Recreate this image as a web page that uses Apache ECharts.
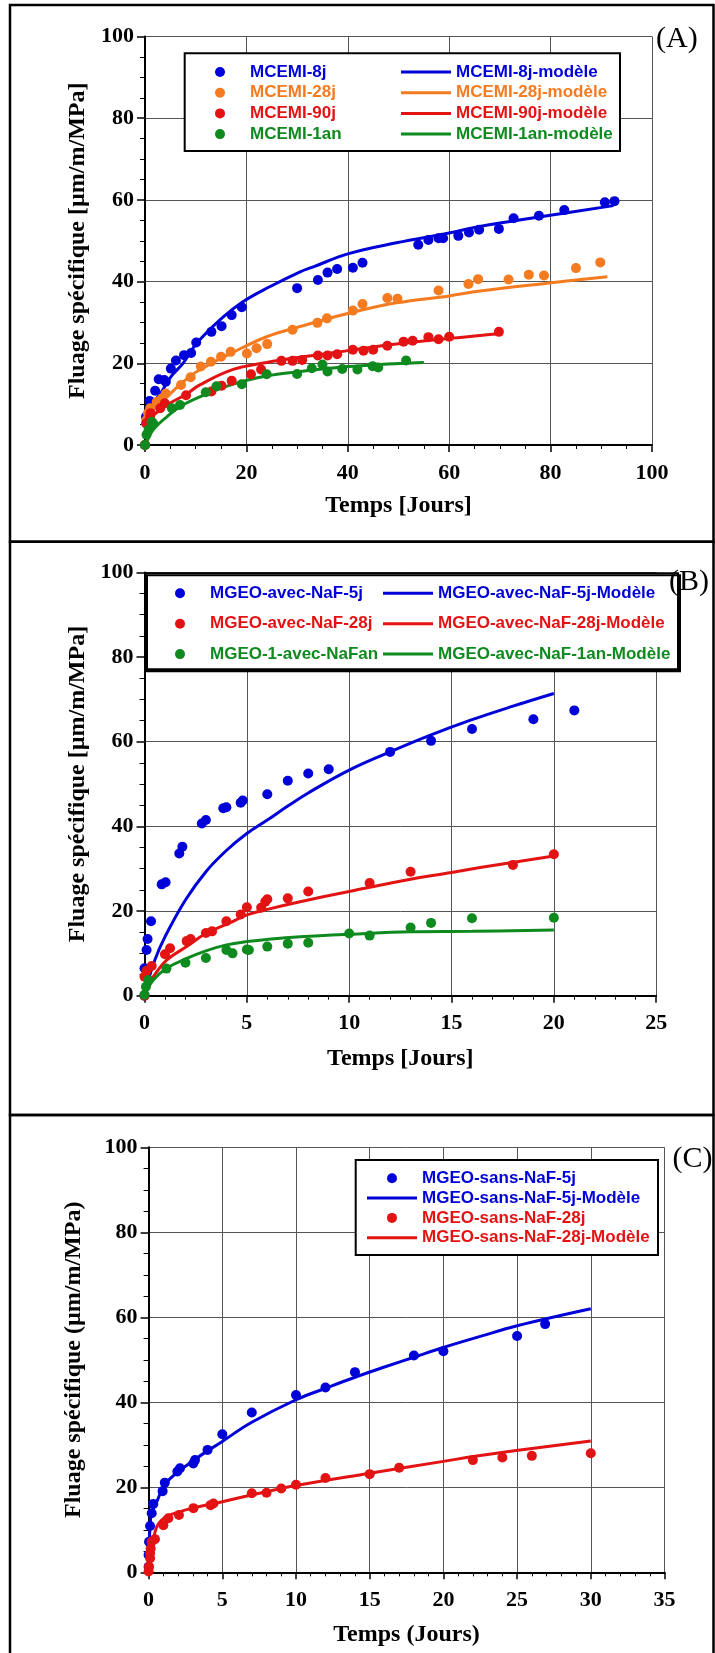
<!DOCTYPE html>
<html><head><meta charset="utf-8">
<script src="https://cdn.jsdelivr.net/npm/echarts@6/dist/echarts.min.js"></script>
<style>html,body{margin:0;padding:0;background:#fff}#c{width:715px;height:1653px}</style>
</head><body><div id="c"></div>
<script>
// ---------- Panel A data (Temps [Jours], Fluage spécifique) ----------
const mcemi8j = [[0,0],[0.2,6.9],[0.9,10.8],[2.0,13.3],[2.7,16.1],[3.8,15.9],[4.1,15.5],[5.1,18.7],[6.1,20.7],[7.7,22.0],[9.1,22.5],[10.1,25.1],[13.1,27.7],[15.1,29.1],[17.1,31.8],[19.1,33.7],[30.0,38.4],[34.1,40.4],[36.0,42.2],[37.9,43.1],[41.0,43.4],[42.9,44.6],[53.9,49.0],[55.9,50.2],[57.9,50.6],[58.8,50.6],[61.8,51.2],[63.9,52.0],[65.9,52.7],[69.8,52.9],[72.7,55.5],[77.7,56.1],[82.7,57.5],[90.7,59.4],[92.6,59.7]];
const mcemi28j = [[0,0],[0.3,6.1],[0.6,7.8],[1.0,9.0],[2.3,10.5],[3.3,11.4],[4.1,12.6],[7.1,14.7],[9.0,16.6],[11.0,19.2],[13.0,20.4],[15.0,21.6],[16.9,22.8],[20.1,22.4],[22.0,23.7],[24.1,24.7],[29.1,28.2],[34.0,29.9],[35.9,31.0],[41.0,32.9],[42.9,34.5],[47.8,36.0],[49.8,35.8],[57.9,37.8],[63.8,39.4],[65.7,40.6],[71.7,40.5],[75.7,41.7],[78.7,41.5],[85.0,43.3],[89.8,44.7]];
const mcemi90j = [[0,0],[0.2,5.3],[1.0,6.9],[1.1,7.8],[3.0,9.0],[3.9,10.2],[8.1,12.2],[13.1,13.1],[15.1,14.5],[17.1,15.7],[20.9,17.3],[22.9,18.5],[26.9,20.6],[29.1,20.6],[31.0,20.8],[34.1,21.9],[36.0,21.9],[37.9,22.2],[41.0,23.3],[43.1,23.1],[45.0,23.3],[47.8,24.3],[51.0,25.3],[52.8,25.5],[55.9,26.4],[57.9,25.9],[60.0,26.5],[69.8,27.7]];
const mcemi1an = [[0,0],[0.3,2.5],[0.7,3.7],[1.3,5.7],[1.6,5.3],[5.3,9.0],[6.9,9.8],[12.0,12.9],[14.1,14.4],[19.1,14.9],[24.0,17.3],[30.0,17.4],[32.9,18.8],[35.0,19.7],[36.0,18.0],[38.9,18.6],[41.9,18.5],[44.9,19.3],[46.0,19.0],[51.5,20.7]];
const modA8j = [[0.05,4.5],[0.5,7.5],[1.6,10.2],[3.3,13.1],[5.1,16.7],[7.5,20.0],[10.2,24.9],[15.1,31.0],[19.1,34.9],[24.7,38.8],[30.6,42.4],[33.2,43.6],[40,46.8],[49.6,49.5],[60,51.9],[66,53.5],[79.3,56.1],[92.4,58.6]];
const modA28j = [[0.05,5],[1.5,8.8],[4.3,11.8],[7.2,15.1],[10.8,18.4],[17.4,22.7],[24,26.5],[30.6,29.0],[40,32.2],[49.6,34.8],[60,36.5],[66.1,37.7],[79.3,39.6],[91.2,41.2]];
const modA90j = [[0.05,4.5],[1,6.5],[3,8.6],[5,10.3],[8.1,12.4],[10.8,14.7],[17.4,18.5],[24,20.2],[30.6,21.5],[40,23.1],[49.6,24.7],[60,26.1],[66.1,26.8],[70.3,27.3]];
const modA1an = [[0,0],[0.3,0.8],[1.6,3.7],[4.3,6.9],[6.9,9.4],[10.8,11.8],[17.4,14.9],[24,16.9],[30,17.9],[40,19.2],[48,19.8],[55,20.2]];

// ---------- Panel B data ----------
const avec5j = [[0,0],[0,6.5],[0.1,10.8],[0.15,13.4],[0.32,17.6],[0.84,26.3],[1.03,26.8],[1.7,33.6],[1.85,35.2],[2.8,40.7],[3.0,41.5],[3.85,44.3],[4.0,44.5],[4.7,45.6],[4.8,46.1],[6.0,47.6],[7.0,50.8],[8.0,52.5],[9.0,53.5],[12.0,57.6],[14.0,60.2],[16.0,63.0],[19.0,65.3],[21.0,67.4]];
const avec28j = [[0,0],[0,4.5],[0.1,5.9],[0.35,7.0],[1.0,9.8],[1.25,11.2],[2.06,12.9],[2.25,13.4],[3.0,14.8],[3.3,15.2],[4.0,17.6],[4.7,19.2],[5.0,20.9],[5.7,20.8],[5.9,22.2],[6.0,22.8],[7.0,23.0],[8.0,24.6],[11.0,26.6],[13.0,29.3],[18.0,30.9],[20.0,33.4]];
const avec1an = [[0,0.2],[0.07,2.1],[0.19,3.7],[1.07,6.4],[2.0,7.8],[3.0,8.9],[4.0,10.8],[4.3,10.0],[5.0,10.9],[5.1,10.8],[6.0,11.6],[7.0,12.3],[8.0,12.5],[10.0,14.7],[11.0,14.2],[13.0,16.1],[14.0,17.2],[16.0,18.3],[20.0,18.4]];
const modB5j = [[0,0.5],[0.5,8.4],[1,13.9],[2,22.6],[3,29.3],[4,34.3],[5,38.3],[6,41.5],[7,44.8],[8,47.9],[10,53.3],[12,57.6],[14,61.6],[16,65.2],[18,68.4],[20,71.4]];
const modB28j = [[0,1.3],[0.43,4.5],[1.08,8.4],[2.06,11.6],[3,14.7],[4.3,17.5],[5,19.1],[6,20.4],[7.6,22.2],[10,24.6],[13,27.5],[15,29.1],[16.4,30.3],[20,33.0]];
const modB1an = [[0,0.2],[0.43,3.7],[1.08,6.5],[2.06,8.8],[3,10.6],[4,12.0],[5,12.8],[6,13.3],[7.6,13.9],[10,14.5],[13,15.1],[16,15.2],[20,15.5]];

// ---------- Panel C data ----------
const sans5j = [[0,1.3],[0,4.1],[0.03,7.2],[0.1,10.9],[0.21,13.9],[0.32,16.1],[0.95,19.1],[1.1,21.1],[1.95,23.7],[2.13,24.5],[3.03,25.6],[3.15,26.4],[4.0,28.8],[5.0,32.5],[7.0,37.6],[10.0,41.7],[12.0,43.5],[14.0,47.1],[18.0,51.0],[20.0,52.0],[25.0,55.6],[26.9,58.4]];
const sans28j = [[0,0.2],[0.03,1.3],[0.1,3.3],[0.1,4.5],[0.14,5.6],[0.2,7.2],[0.43,7.8],[1.0,11.1],[1.34,12.7],[2.06,13.5],[3.04,15.1],[4.2,15.8],[4.4,16.2],[7.0,18.6],[8.0,18.7],[9.0,19.7],[10.0,20.6],[12.0,22.2],[15.0,23.1],[17.0,24.6],[22.0,26.4],[24.0,27.0],[26.0,27.4],[30.0,28.0]];
const modC5j = [[0.02,5],[0.1,10.7],[0.2,13.9],[0.55,16.6],[1.2,21.1],[3,26.2],[5,30.8],[7,35.3],[10,40.6],[12,43.3],[14,45.9],[16,48.3],[18,50.6],[20,52.9],[22.5,55.5],[25,58.0],[30,62.0]];
const modC28j = [[0,1.3],[0.32,7.6],[0.55,10.7],[0.88,12.3],[1.45,13.5],[3,15.1],[5,16.6],[7,18.2],[10,20.4],[15,23.3],[20,26.1],[22.5,27.5],[30,30.9]];

// ---------- axis settings ----------
const xMaxA = 100, xStepA = 20;
const xMaxB = 25, xStepB = 5;
const xMaxC = 35, xStepC = 5;
const yMax = 100, yStep = 20;
const xTitleAB = 'Temps [Jours]';
const xTitleC = 'Temps (Jours)';
const yTitleAB = 'Fluage spécifique [µm/m/MPa]';
const yTitleC = 'Fluage spécifique (µm/m/MPa)';

const BLUE = '#0000d8', ORANGE = '#f47b20', RED = '#e31313', GREEN = '#0e8a1e';
const SERIF = '"Liberation Serif","Times New Roman",serif';
const SANS = '"Liberation Sans",Arial,sans-serif';
const LINE_ICON = 'path://M0,0L50,0L50,3L0,3Z';

function xAxisOpt(gi, max, interval, minorSplit, name, nameGap) {
  return {
    type: 'value', gridIndex: gi, min: 0, max: max, interval: interval,
    name: name, nameLocation: 'middle', nameGap: nameGap,
    nameTextStyle: {fontFamily: SERIF, fontWeight: 'bold', fontSize: 24, color: '#000'},
    axisLine: {show: true, onZero: false, lineStyle: {color: '#000', width: 2}},
    axisTick: {show: true, length: 7, lineStyle: {color: '#000', width: 1.5}},
    minorTick: {show: true, splitNumber: minorSplit, length: 4, lineStyle: {color: '#000', width: 1}},
    axisLabel: {margin: 17, fontFamily: SERIF, fontWeight: 'bold', fontSize: 22, color: '#000'},
    splitLine: {show: true, lineStyle: {color: '#555', width: 1}}
  };
}
function yAxisOpt(gi, name, nameGap) {
  return {
    type: 'value', gridIndex: gi, min: 0, max: yMax, interval: yStep,
    name: name, nameLocation: 'middle', nameGap: nameGap,
    nameTextStyle: {fontFamily: SERIF, fontWeight: 'bold', fontSize: 24, color: '#000'},
    axisLine: {show: true, onZero: false, lineStyle: {color: '#000', width: 2}},
    axisTick: {show: true, length: 8, lineStyle: {color: '#000', width: 1.5}},
    minorTick: {show: true, splitNumber: 4, length: 5, lineStyle: {color: '#000', width: 1}},
    axisLabel: {margin: 11, fontFamily: SERIF, fontWeight: 'bold', fontSize: 22, color: '#000'},
    splitLine: {show: true, lineStyle: {color: '#555', width: 1}}
  };
}
function lineS(name, gi, data, color) {
  return {type: 'line', name: name, xAxisIndex: gi, yAxisIndex: gi, data: data,
    smooth: 0.4, symbol: 'none', lineStyle: {color: color, width: 3}, itemStyle: {color: color}, z: 2};
}
function dotS(name, gi, data, color) {
  return {type: 'scatter', name: name, xAxisIndex: gi, yAxisIndex: gi, data: data,
    symbol: 'circle', symbolSize: 10, itemStyle: {color: color, opacity: 1}, z: 3};
}
function leg(left, top, gap, items) {
  return {
    orient: 'vertical', left: left, top: top, padding: 0, itemGap: gap,
    itemWidth: 50, itemHeight: 10, selectedMode: false, z: 5,
    textStyle: {fontFamily: SANS, fontWeight: 'bold', fontSize: 17, lineHeight: 17},
    data: items.map(function (it) { return {name: it[0], icon: it[2] || LINE_ICON, textStyle: {color: it[1]}}; })
  };
}

const option = {
  backgroundColor: '#fff',
  animation: false,
  grid: [
    {left: 145, top: 36.5, width: 507, height: 408.5, containLabel: false, outerBoundsMode: 'none'},
    {left: 144.5, top: 572.4, width: 511.7, height: 423.3, containLabel: false, outerBoundsMode: 'none'},
    {left: 148.6, top: 1147.3, width: 515.9, height: 425, containLabel: false, outerBoundsMode: 'none'}
  ],
  xAxis: [
    xAxisOpt(0, xMaxA, xStepA, 4, xTitleAB, 49),
    xAxisOpt(1, xMaxB, xStepB, 5, xTitleAB, 51),
    xAxisOpt(2, xMaxC, xStepC, 5, xTitleC, 50)
  ],
  yAxis: [
    yAxisOpt(0, yTitleAB, 55),
    yAxisOpt(1, yTitleAB, 55),
    yAxisOpt(2, yTitleC, 63)
  ],
  legend: [
    leg(215, 63.5, 3.7, [['MCEMI-8j', BLUE, 'circle'], ['MCEMI-28j', ORANGE, 'circle'], ['MCEMI-90j', RED, 'circle'], ['MCEMI-1an', GREEN, 'circle']]),
    leg(401, 63.5, 3.7, [['MCEMI-8j-modèle', BLUE], ['MCEMI-28j-modèle', ORANGE], ['MCEMI-90j-modèle', RED], ['MCEMI-1an-modèle', GREEN]]),
    leg(175, 584.8, 13.4, [['MGEO-avec-NaF-5j', BLUE, 'circle'], ['MGEO-avec-NaF-28j', RED, 'circle'], ['MGEO-1-avec-NaFan', GREEN, 'circle']]),
    leg(383, 584.8, 13.4, [['MGEO-avec-NaF-5j-Modèle', BLUE], ['MGEO-avec-NaF-28j-Modèle', RED], ['MGEO-avec-NaF-1an-Modèle', GREEN]]),
    leg(367, 1169.8, 2.8, [['MGEO-sans-NaF-5j', BLUE, 'circle'], ['MGEO-sans-NaF-5j-Modèle', BLUE], ['MGEO-sans-NaF-28j', RED, 'circle'], ['MGEO-sans-NaF-28j-Modèle', RED]])
  ],
  graphic: [
    {type: 'rect', shape: {x: 10, y: 5, width: 703.5, height: 536.7}, style: {fill: 'none', stroke: '#000', lineWidth: 2.5}, z: 10},
    {type: 'rect', shape: {x: 10, y: 541.7, width: 703.5, height: 573.3}, style: {fill: 'none', stroke: '#000', lineWidth: 2.5}, z: 10},
    {type: 'rect', shape: {x: 10, y: 1115, width: 703.5, height: 560}, style: {fill: 'none', stroke: '#000', lineWidth: 2.5}, z: 10},
    {type: 'rect', shape: {x: 184.7, y: 53.3, width: 435.3, height: 97.7}, style: {fill: '#fff', stroke: '#000', lineWidth: 2}, z: 4},
    {type: 'rect', shape: {x: 145, y: 573.3, width: 533, height: 96}, style: {fill: '#fff', stroke: '#000', lineWidth: 2, shadowColor: '#000', shadowOffsetX: 2, shadowOffsetY: 2, shadowBlur: 0}, z: 4},
    {type: 'rect', shape: {x: 355.7, y: 1160, width: 302.3, height: 95}, style: {fill: '#fff', stroke: '#000', lineWidth: 2}, z: 4},
    {type: 'text', x: 656, y: 39, style: {text: '(A)', fill: '#000', font: '30px ' + SERIF, textAlign: 'left', textVerticalAlign: 'middle'}, z: 10},
    {type: 'text', x: 669, y: 582.5, style: {text: '(B)', fill: '#000', font: '30px ' + SERIF, textAlign: 'left', textVerticalAlign: 'middle'}, z: 10},
    {type: 'text', x: 672.5, y: 1159, style: {text: '(C)', fill: '#000', font: '30px ' + SERIF, textAlign: 'left', textVerticalAlign: 'middle'}, z: 10}
  ],
  series: [
    lineS('MCEMI-8j-modèle', 0, modA8j, BLUE),
    lineS('MCEMI-28j-modèle', 0, modA28j, ORANGE),
    lineS('MCEMI-90j-modèle', 0, modA90j, RED),
    lineS('MCEMI-1an-modèle', 0, modA1an, GREEN),
    dotS('MCEMI-8j', 0, mcemi8j, BLUE),
    dotS('MCEMI-28j', 0, mcemi28j, ORANGE),
    dotS('MCEMI-90j', 0, mcemi90j, RED),
    dotS('MCEMI-1an', 0, mcemi1an, GREEN),
    lineS('MGEO-avec-NaF-5j-Modèle', 1, modB5j, BLUE),
    lineS('MGEO-avec-NaF-28j-Modèle', 1, modB28j, RED),
    lineS('MGEO-avec-NaF-1an-Modèle', 1, modB1an, GREEN),
    dotS('MGEO-avec-NaF-5j', 1, avec5j, BLUE),
    dotS('MGEO-avec-NaF-28j', 1, avec28j, RED),
    dotS('MGEO-1-avec-NaFan', 1, avec1an, GREEN),
    lineS('MGEO-sans-NaF-5j-Modèle', 2, modC5j, BLUE),
    lineS('MGEO-sans-NaF-28j-Modèle', 2, modC28j, RED),
    dotS('MGEO-sans-NaF-5j', 2, sans5j, BLUE),
    dotS('MGEO-sans-NaF-28j', 2, sans28j, RED)
  ]
};
const chart = echarts.init(document.getElementById('c'), null, {renderer: 'canvas'});
chart.setOption(option);
</script></body></html>
